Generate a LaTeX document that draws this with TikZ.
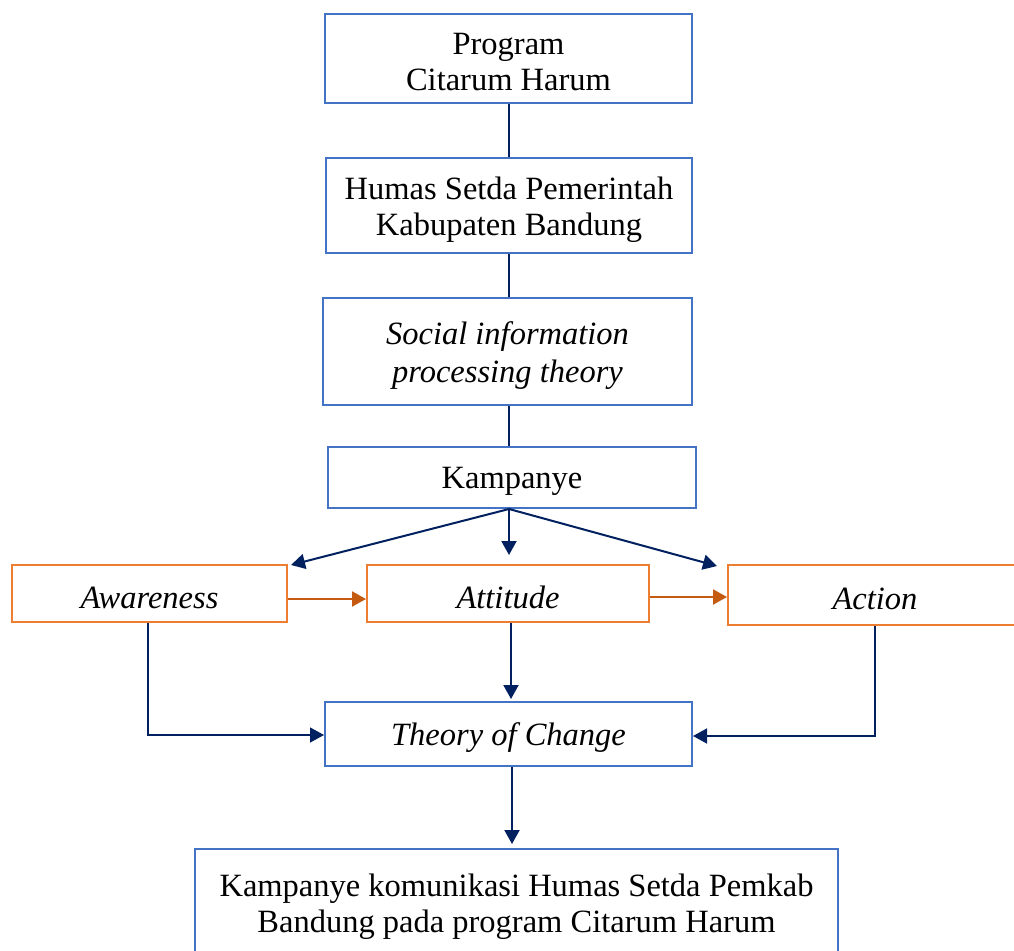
\documentclass[tikz,border=0pt]{standalone}
\usepackage{fontspec}
\setmainfont{Liberation Serif}
\usetikzlibrary{arrows.meta}
\definecolor{boxblue}{HTML}{4472C4}
\definecolor{boxorange}{HTML}{ED7D31}
\definecolor{navy}{HTML}{002060}
\definecolor{darkorange}{HTML}{C55A11}
\tikzset{
  bbox/.style={draw=boxblue, line width=2pt, fill=white, inner sep=0pt},
  obox/.style={draw=boxorange, line width=2pt, fill=white, inner sep=0pt},
  txt/.style={align=center, inner sep=0pt, yshift=-4pt, font=\fontsize{32.5}{36}\selectfont},
  itxt/.style={txt, font=\fontsize{32.5}{36}\selectfont\itshape},
  conn/.style={draw=navy, line width=2pt},
  arr/.style={draw=navy, line width=2pt, -{Triangle[length=14pt,width=15pt]}},
  elbow/.style={draw=navy, line width=1.4pt, -{Triangle[length=14pt,width=15pt]}},
  oarr/.style={draw=darkorange, line width=2pt, -{Triangle[length=14pt,width=15pt]}},
}
\begin{document}
\begin{tikzpicture}[x=1pt,y=-1pt]
\clip (0,0) rectangle (1014,950);
\fill[white] (0,0) rectangle (1014,950);
\node[bbox, minimum width=367pt, minimum height=89pt,
  label={[txt]center:{Program\\Citarum Harum}}] (prog) at (508.5,58.5) {};
\node[bbox, minimum width=366pt, minimum height=95pt,
  label={[txt]center:{Humas Setda Pemerintah\\Kabupaten Bandung}}] (humas) at (509,205.5) {};
\node[bbox, minimum width=369pt, minimum height=107pt,
  label={[itxt, font=\fontsize{32.5}{38}\selectfont\itshape]center:{Social information\\processing theory}}] (sip) at (507.5,351.5) {};
\node[bbox, minimum width=368pt, minimum height=61pt,
  label={[txt]center:Kampanye}] (kamp) at (512,477.5) {};
\node[obox, minimum width=275pt, minimum height=57pt,
  label={[itxt]center:Awareness}] (aw) at (149.5,593.5) {};
\node[obox, minimum width=282pt, minimum height=57pt,
  label={[itxt]center:Attitude}] (att) at (508,593.5) {};
\node[obox, minimum width=294pt, minimum height=60pt,
  label={[itxt]center:Action}] (act) at (875,595) {};
\node[bbox, minimum width=367pt, minimum height=64pt,
  label={[itxt]center:Theory of Change}] (toc) at (508.5,734) {};
\node[bbox, minimum width=643pt, minimum height=108pt,
  label={[txt]center:{Kampanye komunikasi Humas Setda Pemkab\\Bandung pada program Citarum Harum}}] (fin) at (516.5,903) {};

\coordinate (vx) at (509,0);
\draw[conn] (vx |- prog.south) -- (vx |- humas.north);
\draw[conn] (vx |- humas.south) -- (vx |- sip.north);
\draw[conn] (vx |- sip.south) -- (vx |- kamp.north);
\coordinate (ks) at ([xshift=-3pt]kamp.south);
\draw[arr] (ks) -- ([xshift=3pt,yshift=-1pt]aw.north east);
\draw[arr, shorten >=9pt] (ks) -- (ks |- att.north);
\draw[arr] (ks) -- ([xshift=-10pt,yshift=-2pt]act.north west);
\draw[oarr] ([yshift=-5.5pt]aw.east) -- ([yshift=-5.5pt]att.west);
\draw[oarr] ([yshift=-3.5pt]att.east) -- ([yshift=-3.5pt]att.east -| act.west);
\draw[arr, shorten >=2pt] ([xshift=3pt]att.south) -- ([xshift=3pt]att.south |- toc.north);
\draw[elbow] ([xshift=-1.5pt]aw.south) |- ([yshift=-1pt]toc.west);
\draw[elbow] (act.south) |- ([yshift=-2pt]toc.east);
\draw[arr, shorten >=4pt] ([xshift=3.5pt]toc.south) -- ([xshift=3.5pt]toc.south |- fin.north);
\end{tikzpicture}
\end{document}
